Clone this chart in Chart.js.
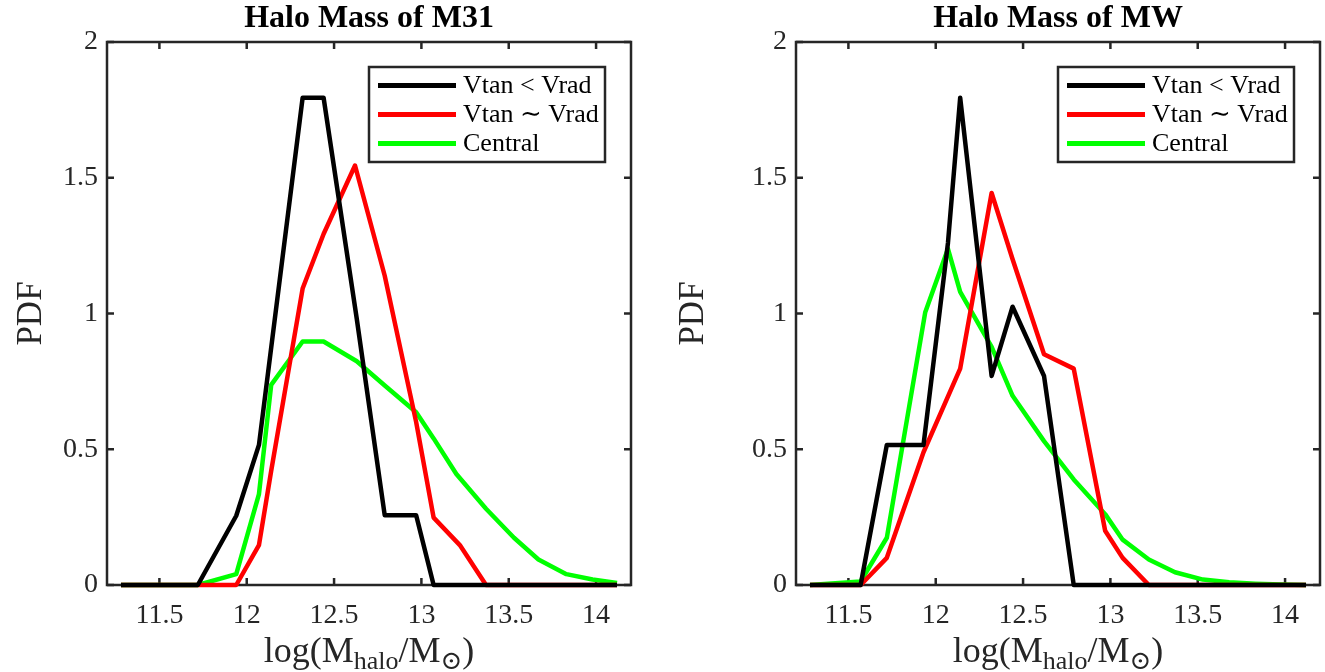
<!DOCTYPE html>
<html>
<head>
<meta charset="utf-8">
<script src="https://cdn.jsdelivr.net/npm/chart.js@4.4.1/dist/chart.umd.min.js"></script>
<style>
    body { margin: 0; background: #fff; width: 1325px; height: 672px; overflow: hidden; position: relative; }
    .panel { position: absolute; top: 0; height: 672px; }
    #m31Panel { left: 0; width: 662px; }
    #mwPanel { left: 662px; width: 663px; }
</style>
</head>
<body>
<div class="panel" id="m31Panel"><canvas id="m31Chart" width="662" height="672"></canvas></div>
<div class="panel" id="mwPanel"><canvas id="mwChart" width="663" height="672"></canvas></div>
<script>
// log(M_halo) bin positions and PDF values, M31
const m31StrictX = [11.28, 11.72, 11.94, 12.07, 12.32, 12.44, 12.63, 12.79, 12.97, 13.07, 14.12];
const m31StrictY = [0, 0, 0.255, 0.516, 1.795, 1.795, 0.98, 0.257, 0.257, 0, 0];
const m31SimilarX = [11.28, 11.94, 12.07, 12.14, 12.32, 12.44, 12.62, 12.79, 12.97, 13.07, 13.22, 13.37, 14.12];
const m31SimilarY = [0, 0, 0.147, 0.42, 1.092, 1.293, 1.545, 1.139, 0.6, 0.248, 0.147, 0, 0];
const m31CentralX = [11.28, 11.72, 11.94, 12.07, 12.14, 12.32, 12.44, 12.63, 12.79, 12.97, 13.07, 13.2, 13.37, 13.53, 13.67, 13.83, 13.98, 14.12];
const m31CentralY = [0, 0, 0.04, 0.335, 0.737, 0.897, 0.897, 0.824, 0.735, 0.636, 0.54, 0.409, 0.281, 0.174, 0.094, 0.04, 0.02, 0.007];

// same for the Milky Way
const mwStrictX = [11.28, 11.57, 11.72, 11.93, 12.07, 12.14, 12.32, 12.44, 12.62, 12.79, 14.12];
const mwStrictY = [0, 0, 0.516, 0.516, 1.26, 1.795, 0.77, 1.025, 0.77, 0, 0];
const mwSimilarX = [11.28, 11.57, 11.72, 11.93, 12.14, 12.32, 12.44, 12.62, 12.79, 12.97, 13.07, 13.22, 14.12];
const mwSimilarY = [0, 0, 0.1, 0.489, 0.797, 1.444, 1.2, 0.85, 0.797, 0.2, 0.1, 0, 0];
const mwCentralX = [11.28, 11.57, 11.72, 11.94, 12.07, 12.14, 12.32, 12.44, 12.62, 12.79, 12.97, 13.07, 13.22, 13.37, 13.53, 13.68, 13.83, 13.98, 14.12];
const mwCentralY = [0, 0.013, 0.174, 1.005, 1.238, 1.08, 0.877, 0.697, 0.53, 0.389, 0.261, 0.167, 0.094, 0.047, 0.02, 0.01, 0.005, 0.002, 0];

const seriesNames = ['Vtan < Vrad', 'Vtan \u223C Vrad', 'Central'];
const seriesColors = ['#000000', '#ff0000', '#00ff00'];

const xTicks = [11.5, 12, 12.5, 13, 13.5, 14];
const xTickLabels = ['11.5', '12', '12.5', '13', '13.5', '14'];
const yTicks = [0, 0.5, 1, 1.5, 2];
const yTickLabels = ['0', '0.5', '1', '1.5', '2'];

const serif = "'Liberation Serif', 'DejaVu Serif', serif";
const axisColor = '#262626';

function toPoints(xs, ys) {
    return xs.map((x, i) => ({ x: x, y: ys[i] }));
}

// MATLAB style box with inward ticks on all four sides
const axesBox = {
    id: 'axesBox',
    beforeDatasetsDraw(chart) {
        const { ctx, chartArea: a } = chart;
        const xs = chart.scales.x, ys = chart.scales.y;
        const len = 7;
        ctx.save();
        ctx.strokeStyle = axisColor;
        ctx.lineWidth = 2.5;
        ctx.beginPath();
        xTicks.forEach(v => {
            const px = xs.getPixelForValue(v);
            ctx.moveTo(px, a.bottom); ctx.lineTo(px, a.bottom - len);
            ctx.moveTo(px, a.top); ctx.lineTo(px, a.top + len);
        });
        yTicks.forEach(v => {
            const py = ys.getPixelForValue(v);
            ctx.moveTo(a.left, py); ctx.lineTo(a.left + len, py);
            ctx.moveTo(a.right, py); ctx.lineTo(a.right - len, py);
        });
        ctx.stroke();
        ctx.strokeRect(a.left, a.top, a.right - a.left, a.bottom - a.top);
        ctx.restore();
    }
};

// boxed legend in the upper right corner of the axes
const boxedLegend = {
    id: 'boxedLegend',
    afterDatasetsDraw(chart) {
        const { ctx, chartArea: a } = chart;
        const w = 236, h = 95;
        const left = a.right - 26 - w, top = a.top + 25;
        ctx.save();
        ctx.fillStyle = '#fff';
        ctx.fillRect(left, top, w, h);
        ctx.strokeStyle = axisColor;
        ctx.lineWidth = 2.5;
        ctx.strokeRect(left, top, w, h);
        ctx.font = '26px ' + serif;
        ctx.textBaseline = 'middle';
        chart.data.datasets.forEach((ds, i) => {
            const cy = top + 18.5 + i * 29;
            ctx.strokeStyle = ds.borderColor;
            ctx.lineWidth = 5;
            ctx.beginPath();
            ctx.moveTo(left + 9, cy);
            ctx.lineTo(left + 87, cy);
            ctx.stroke();
            ctx.fillStyle = '#000';
            ctx.fillText(ds.label, left + 94, cy + 1);
        });
        ctx.restore();
    }
};

// x label with subscripts: log(M_halo / M_sun)
const massLabel = {
    id: 'massLabel',
    afterDraw(chart) {
        const { ctx, chartArea: a } = chart;
        const big = '36px ' + serif, small = '26px ' + serif;
        const parts = [
            ['log(M', big, 0],
            ['halo', small, 7],
            ['/M', big, 0],
            ['\u2299', small, 7],
            [')', big, 0]
        ];
        ctx.save();
        ctx.fillStyle = axisColor;
        ctx.textBaseline = 'alphabetic';
        let total = 0;
        parts.forEach(p => { ctx.font = p[1]; total += ctx.measureText(p[0]).width; });
        let x = (a.left + a.right) / 2 - total / 2;
        const base = 662;
        parts.forEach(p => {
            ctx.font = p[1];
            ctx.fillText(p[0], x, base + p[2]);
            x += ctx.measureText(p[0]).width;
        });
        ctx.restore();
    }
};

function makeChart(canvasId, titleText, xsList, ysList, yAxisWidth, rightPad) {
    const datasets = xsList.map((xs, i) => ({
        label: seriesNames[i],
        data: toPoints(xs, ysList[i]),
        borderColor: seriesColors[i],
        backgroundColor: seriesColors[i],
        borderWidth: 4.5,
        borderJoinStyle: 'round',
        pointRadius: 0,
        tension: 0,
        clip: false
    }));

    return new Chart(document.getElementById(canvasId), {
        type: 'line',
        data: { datasets: datasets },
        plugins: [axesBox, boxedLegend, massLabel],
        options: {
            responsive: false,
            animation: false,
            layout: { padding: { top: 0, right: rightPad, bottom: 0, left: 0 } },
            plugins: {
                legend: { display: false },
                tooltip: { enabled: false },
                title: {
                    display: true,
                    text: titleText,
                    fullSize: false,
                    color: '#000',
                    font: { family: serif, size: 32, weight: 'bold', lineHeight: 1 },
                    padding: { top: 3, bottom: 7 }
                }
            },
            scales: {
                x: {
                    type: 'linear',
                    min: 11.2,
                    max: 14.2,
                    grid: { display: false, drawTicks: false },
                    border: { display: false },
                    afterBuildTicks: s => { s.ticks = xTicks.map(v => ({ value: v })); },
                    afterFit: s => { s.height = 87; },
                    ticks: {
                        padding: 14,
                        color: axisColor,
                        font: { family: serif, size: 28 },
                        maxRotation: 0,
                        callback: v => xTickLabels[xTicks.indexOf(v)]
                    }
                },
                y: {
                    type: 'linear',
                    min: 0,
                    max: 2,
                    grid: { display: false, drawTicks: false },
                    border: { display: false },
                    afterBuildTicks: s => { s.ticks = yTicks.map(v => ({ value: v })); },
                    afterFit: s => { s.width = yAxisWidth; },
                    ticks: {
                        padding: 9,
                        color: axisColor,
                        font: { family: serif, size: 28 },
                        callback: v => yTickLabels[yTicks.indexOf(v)]
                    },
                    title: {
                        display: true,
                        text: 'PDF',
                        color: axisColor,
                        font: { family: serif, size: 35, lineHeight: 1 },
                        padding: { top: 14, bottom: 0 }
                    }
                }
            }
        }
    });
}

makeChart('m31Chart', 'Halo Mass of M31',
    [m31StrictX, m31SimilarX, m31CentralX],
    [m31StrictY, m31SimilarY, m31CentralY], 107, 31);

makeChart('mwChart', 'Halo Mass of MW',
    [mwStrictX, mwSimilarX, mwCentralX],
    [mwStrictY, mwSimilarY, mwCentralY], 134, 5);
</script>
</body>
</html>
